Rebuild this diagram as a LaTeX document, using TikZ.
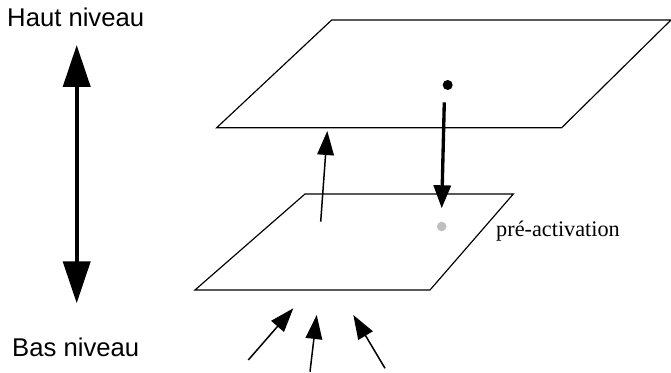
\documentclass[tikz,border=0pt]{standalone}
\usepackage{fontspec}
\setmainfont{Liberation Serif}
\newfontfamily\labelfont{Liberation Sans}
\usetikzlibrary{positioning, arrows.meta}

\begin{document}
\begin{tikzpicture}[
    x=0.03cm, y=-0.03cm,
    plane/.style={draw, line width=1pt, line join=miter},
    level/.style={font=\labelfont\fontsize{21.9pt}{24pt}\selectfont, inner sep=0pt, anchor=base west},
    bigarr/.style={{Triangle[length=1.26cm, width=0.81cm]}-{Triangle[length=1.26cm, width=0.81cm]}, line width=0.12cm},
    thickarr/.style={-{Triangle[length=0.69cm, width=0.51cm]}, line width=0.1cm},
    thinarr/.style={-{Triangle[length=0.72cm, width=0.5cm]}, line width=0.045cm}
]
\useasboundingbox (0,0) rectangle (671,373);

% niveaux
\node[level] (haut) at (7,26.7) {Haut niveau};
\node[level] (bas) at (12,356.7) {Bas niveau};
\coordinate (hautTip) at (76.7,45);
\coordinate (basTip) at (76.7,303.3);
\draw[bigarr] (basTip) -- (hautTip);

% plans
\draw[plane] (331.7,20) -- (671,20) -- (561.7,127.7) -- (216.7,127.7) -- cycle;
\draw[plane] (305,194) -- (513.3,194) -- (430,290) -- (195,290) -- cycle;

% activation du haut vers le bas
\fill (447.7,85) circle (5);
\coordinate (downStart) at (444.3,102.3);
\coordinate (downTip) at (441.7,208.3);
\draw[thickarr] (downStart) -- (downTip);
\fill[gray!50] (441.7,226.5) circle (4.8);
\node[inner sep=0pt, anchor=base west, font=\fontsize{19pt}{22pt}\selectfont] (pre) at (496,237) {pré-activation};

% du bas vers le haut
\coordinate (upStart) at (320.7,221.7);
\coordinate (upTip) at (327.3,131);
\draw[thinarr] (upStart) -- (upTip);

% entrees
\coordinate (inA) at (248.3,360);
\coordinate (inB) at (310,371.7);
\coordinate (inC) at (385,368.3);
\draw[thinarr] (inA) -- (293.3,308.3);
\draw[thinarr] (inB) -- (316.7,315);
\draw[thinarr] (inC) -- (353.3,315);

\end{tikzpicture}
\end{document}
